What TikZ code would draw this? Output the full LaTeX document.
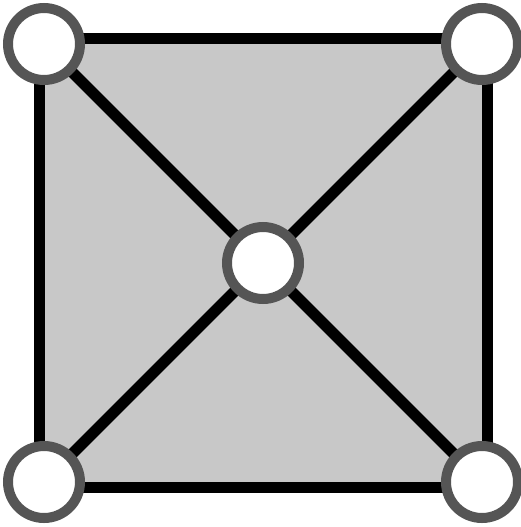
\documentclass[tikz,border=0pt]{standalone}
\usepackage{tikz}
\begin{document}
\begin{tikzpicture}[
			x=1pt, y=-1pt,
			face/.style={fill=faceGray, draw=none},
			edge/.style={draw=black, line width=11pt, line cap=butt},
			vertex/.style={circle, draw=vertexRim, fill=white, line width=10pt, minimum size=72pt, inner sep=0pt}
			]
			\definecolor{faceGray}{HTML}{C8C8C8}
			\definecolor{vertexRim}{HTML}{555555}
			\useasboundingbox (0,0) rectangle (521,527);
			
			% Square corners
			\coordinate (sqTL) at (39,39);
			\coordinate (sqTR) at (487,39);
			\coordinate (sqBR) at (487,487);
			\coordinate (sqBL) at (39,487);
			\coordinate (mid) at (263,263);
			
			% Gray face
			\fill[face] (sqTL) rectangle (sqBR);
			
			% Diagonals
			\draw[edge] (sqTL) -- (mid) -- (sqBR);
			\draw[edge] (sqTR) -- (mid) -- (sqBL);
			
			% Outline
			\draw[edge, line join=miter] (sqTL) -- (sqTR) -- (sqBR) -- (sqBL) -- cycle;
			
			% Vertices
			\node[vertex] (vTL) at (44,44) {};
			\node[vertex] (vTR) at (482,44) {};
			\node[vertex] (vBR) at (482,482) {};
			\node[vertex] (vBL) at (44,482) {};
			\node[vertex] (vMid) at (mid) {};
			
		\end{tikzpicture}
\end{document}
